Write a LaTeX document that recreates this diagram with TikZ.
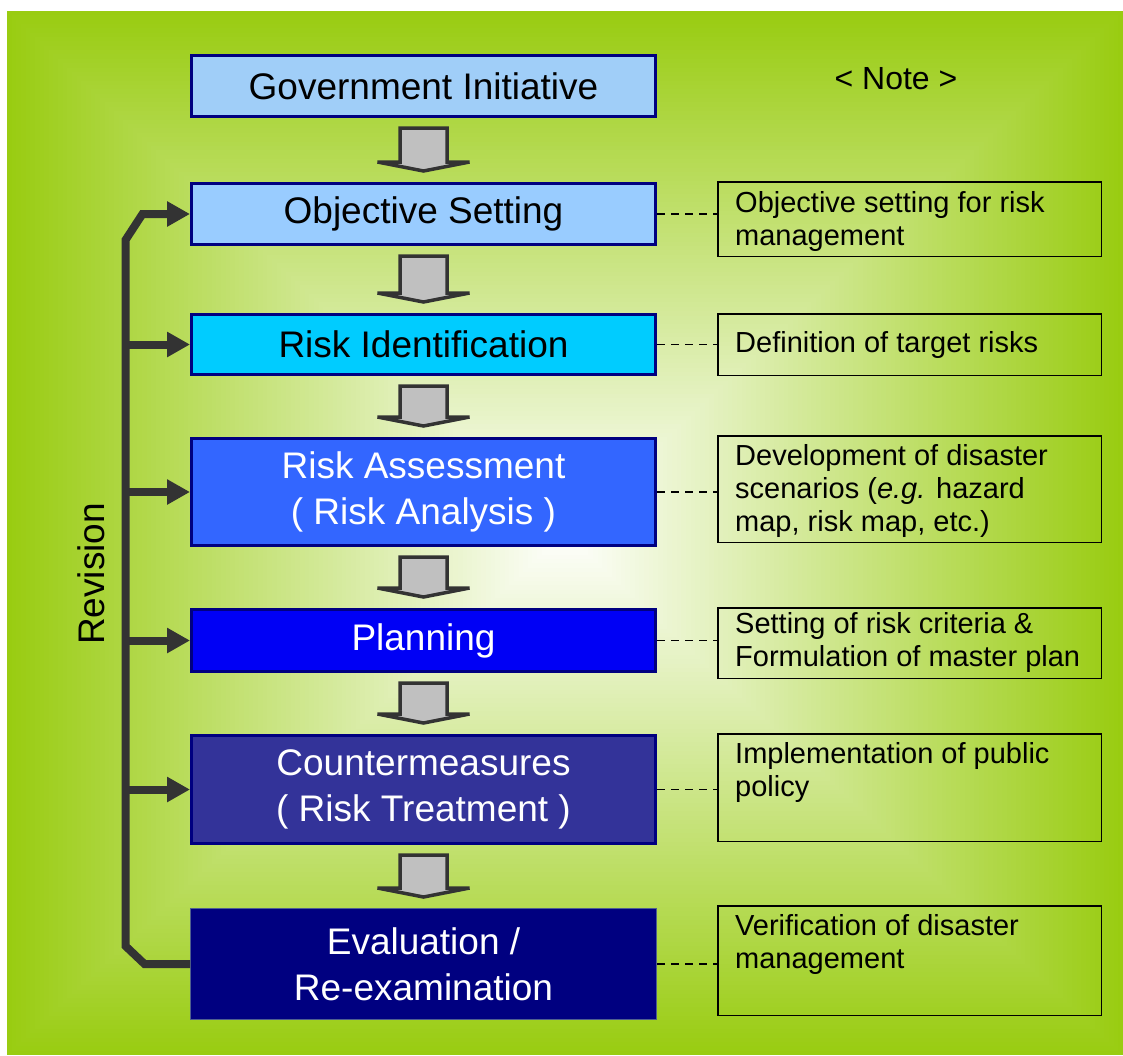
\documentclass[tikz,border=0pt]{standalone}
\usepackage{fontspec}
\setmainfont{Liberation Sans}
\usetikzlibrary{arrows.meta,calc}

\definecolor{edgegreen}{HTML}{99CC11}
\definecolor{navyline}{HTML}{000080}
\definecolor{govblue}{HTML}{A0CEF8}
\definecolor{objblue}{HTML}{99CCFF}
\definecolor{ridblue}{HTML}{00CCFF}
\definecolor{rablue}{HTML}{3366FF}
\definecolor{planblue}{HTML}{0000F5}
\definecolor{cmblue}{HTML}{333399}
\definecolor{evblue}{HTML}{000080}
\definecolor{evline}{HTML}{4F5F8F}
\definecolor{darkline}{HTML}{333333}
\definecolor{arrowgray}{HTML}{C0C0C0}

\newcommand\stagefont{\fontsize{37}{46}\selectfont}
\newcommand\notefont{\fontsize{29}{33}\selectfont}
\newcommand\firstline{\rule{0pt}{22pt}}

% gray block arrow between two stacked stages
\newcommand\flowarrow[2]{%
  \draw[blockarrow]
    ($(#1.south)+(-23.5,10)$) -- ($(#1.south)+(23.5,10)$) --
    ($(#2.north)+(23.5,-20)$) -- ($(#2.north)+(46,-20)$) --
    ($(#2.north)+(0,-11)$) --
    ($(#2.north)+(-46,-20)$) -- ($(#2.north)+(-23.5,-20)$) -- cycle;}

\begin{document}
\begin{tikzpicture}[x=1pt,y=-1pt,
  stage/.style={draw=navyline, line width=3pt, minimum width=464pt,
    align=center, font=\stagefont, inner sep=0pt},
  note/.style={draw=black, line width=1.5pt, minimum width=383.5pt, inner sep=0pt},
  notetext/.style={anchor=north west, align=left, font=\notefont, inner sep=0pt},
  leader/.style={draw=black, line width=1.5pt, dash pattern=on 8pt off 6pt},
  blockarrow/.style={draw=darkline, fill=arrowgray, line width=3.5pt, line join=miter},
  revision/.style={draw=darkline, line width=8pt, line join=miter,
    -{Triangle[length=23pt,width=24pt]}},
  revisionline/.style={draw=darkline, line width=8pt, line join=miter}
]
\useasboundingbox (0,0) rectangle (1123,1055);
\fill[white] (0,0) rectangle (1123,1055);

% background: rectangular gradient, white centre to green edges
\foreach \i in {0,...,119}{
  \pgfmathsetmacro{\f}{1-\i/120}
  \pgfmathsetmacro{\p}{100*\f}
  \fill[edgegreen!\p!white] (565-558*\f, 533-522*\f) rectangle (565+558*\f, 533+522*\f);
}

% process stages
\node[stage, fill=govblue, minimum height=61pt] (gov) at (423.5,86) {Government Initiative};
\node[stage, fill=objblue, minimum height=61pt] (obj) at (423.5,214) {Objective Setting};
\node[stage, fill=ridblue, minimum height=60pt] (rid) at (423.5,344.5) {Risk Identification};
\node[stage, fill=rablue, minimum height=107pt, text=white] (ra) at (423.5,492) {Risk Assessment\\( Risk Analysis )};
\node[stage, fill=planblue, minimum height=62pt, text=white] (plan) at (423.5,640.5) {Planning};
\node[stage, fill=cmblue, minimum height=108pt, text=white] (cm) at (423.5,789.5) {Countermeasures\\( Risk Treatment )};
\node[stage, fill=evblue, draw=evline, line width=1pt, minimum width=466pt, minimum height=111pt, text=white] (ev) at (423.5,964) {Evaluation /\\Re-examination};

% flow arrows
\flowarrow{gov}{obj}
\flowarrow{obj}{rid}
\flowarrow{rid}{ra}
\flowarrow{ra}{plan}
\flowarrow{plan}{cm}
\flowarrow{cm}{ev}

% note header
\node[font=\fontsize{32}{38}\selectfont, inner sep=0pt] (hdr) at (896,79) {< Note >};

% note boxes
\node[note, minimum height=74.5pt] (n1) at (909.5,219) {};
\node[note, minimum height=61.5pt] (n2) at (909.5,344.5) {};
\node[note, minimum height=106.5pt] (n3) at (909.5,489) {};
\node[note, minimum height=70.5pt] (n4) at (909.5,643) {};
\node[note, minimum height=107.5pt] (n5) at (909.5,787.5) {};
\node[note, minimum height=109.5pt] (n6) at (909.5,960.5) {};

\node[notetext] (t1) at ($(n1.north west)+(18,31-22)$) {\firstline Objective setting for risk\\management};
\node[notetext] (t2) at ($(n2.north west)+(18,39-22)$) {\firstline Definition of target risks};
\node[notetext] (t3) at ($(n3.north west)+(18,30-22)$) {\firstline Development of disaster\\scenarios (\textit{e.g.} hazard\\map, risk map, etc.)};
\node[notetext] (t4) at ($(n4.north west)+(18,26-22)$) {\firstline Setting of risk criteria \&\\Formulation of master plan};
\node[notetext] (t5) at ($(n5.north west)+(18,30-22)$) {\firstline Implementation of public\\policy};
\node[notetext] (t6) at ($(n6.north west)+(18,30-22)$) {\firstline Verification of disaster\\management};

% leaders from stages to notes
\draw[leader] (obj.east) -- (obj.east -| n1.west);
\draw[leader] (rid.east) -- (rid.east -| n2.west);
\draw[leader] (ra.east) -- (ra.east -| n3.west);
\draw[leader] (plan.east) -- (plan.east -| n4.west);
\draw[leader] (cm.east) -- (cm.east -| n5.west);
\draw[leader] (ev.east) -- (ev.east -| n6.west);

% revision loop
\coordinate (spine) at (125.5,0);
\draw[revision] (ev.west) -- ($(ev.west -| spine)+(19,0)$) -- ($(ev.west -| spine)+(0,-18)$)
  -- ($(obj.west -| spine)+(0,26)$) -- ($(obj.west -| spine)+(17,0)$) -- (obj.west);
\draw[revision] (rid.west -| spine) -- (rid.west);
\draw[revision] (ra.west -| spine) -- (ra.west);
\draw[revision] (plan.west -| spine) -- (plan.west);
\draw[revision] (cm.west -| spine) -- (cm.west);

\node[font=\stagefont, rotate=90, inner sep=0pt] (rev) at (91,574) {Revision};
\end{tikzpicture}
\end{document}
